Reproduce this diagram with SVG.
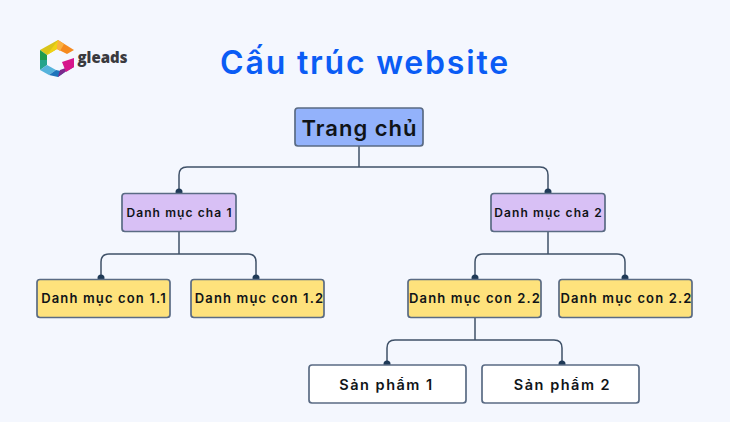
<svg xmlns="http://www.w3.org/2000/svg" width="730" height="422" viewBox="0 0 730 422">
<style>
text{font-family:"Inter","Noto Sans",sans-serif;font-weight:600;fill:#101418;text-anchor:middle}
.box{stroke:#5a6b84;stroke-width:1.7}
.n{font-size:13px;letter-spacing:1.150px}
.m{font-size:12px;letter-spacing:1.100px}
.s{font-size:14.500px;letter-spacing:1.500px}
.c{fill:none;stroke:#3f5168;stroke-width:1.5}
.d{fill:#1f3a57}
</style>
<rect width="730" height="422" fill="#f4f7fe"/>
<g id="logo">
<polygon points="58,40 40,50 47,55 57,49" fill="#d9c41a"/>
<polygon points="40,50 40,60 47,60 47,55" fill="#1f9a4c"/>
<polygon points="40,60 40,70 47,65 47,60" fill="#23a48b"/>
<polygon points="40,70 49,75 56,70 47,65" fill="#55b3dc"/>
<polygon points="49,75 58,77 65,72 56,70" fill="#1d74bb"/>
<polygon points="58,77 65,72 74,67 74,65 60,70" fill="#7b2a8c"/>
<polygon points="62,62 74,58 74,67 66,72" fill="#d6168c"/>
<polygon points="58,40 74,50 67,54 57,49" fill="#f58a1f"/>
<polygon points="47,55 57,49 58,40" fill="#f0d214"/>
<polygon points="58,40 64,44 60,51 57,49" fill="#fbb040"/>
<text x="102.500" y="63" style="font-size:15px;fill:#3a3a3e;font-weight:800;font-family:'Open Sans',sans-serif">gleads</text>
</g>
<text x="365" y="74" style="font-size:32px;fill:#0a5cf5;letter-spacing:1.800px">Cấu trúc website</text>
<g id="connectors">
<path class="c" d="M359 146V167M179 193V175Q179 167 187 167H540Q548 167 548 175V193"/>
<path class="c" d="M179 232V254M101 279V262Q101 254 109 254H248Q256 254 256 262V279"/>
<path class="c" d="M548 232V254M475 279V262Q475 254 483 254H617Q625 254 625 262V279"/>
<path class="c" d="M475 318V340M387 365V348Q387 340 395 340H554Q562 340 562 348V365"/>
<circle class="d" cx="179" cy="192" r="3.500"/><circle class="d" cx="548" cy="192" r="3.500"/>
<circle class="d" cx="101" cy="278" r="3.500"/><circle class="d" cx="256" cy="278" r="3.500"/>
<circle class="d" cx="475" cy="278" r="3.500"/><circle class="d" cx="625" cy="278" r="3.500"/>
<circle class="d" cx="387" cy="364" r="3.500"/><circle class="d" cx="562" cy="364" r="3.500"/>
</g>
<g id="home"><rect class="box" x="295" y="108" width="128" height="38" rx="3" fill="#93b2fb"/><text x="359.500" y="136" style="font-size:22px;letter-spacing:1px">Trang chủ</text></g>
<g id="cha1"><rect class="box" x="122" y="193.500" width="114" height="38" rx="3" fill="#d8c0f5"/><text class="m" x="179.500" y="216.500">Danh mục cha 1</text></g>
<g id="cha2"><rect class="box" x="491" y="193.500" width="114" height="38" rx="3" fill="#d8c0f5"/><text class="m" x="548.500" y="216.500">Danh mục cha 2</text></g>
<g id="con11"><rect class="box" x="37" y="279.500" width="133" height="38" rx="3" fill="#fee27c"/><text class="n" x="104" y="303">Danh mục con 1.1</text></g>
<g id="con12"><rect class="box" x="191" y="279.500" width="133" height="38" rx="3" fill="#fee27c"/><text class="n" x="259.500" y="303">Danh mục con 1.2</text></g>
<g id="con22a"><rect class="box" x="408" y="279.500" width="133" height="38" rx="3" fill="#fee27c"/><text class="n" x="475" y="303">Danh mục con 2.2</text></g>
<g id="con22b"><rect class="box" x="559" y="279.500" width="133" height="38" rx="3" fill="#fee27c"/><text class="n" x="626.500" y="303">Danh mục con 2.2</text></g>
<g id="sp1"><rect class="box" x="309" y="365" width="157" height="38" rx="3" fill="#fff"/><text class="s" x="386.500" y="390">Sản phẩm 1</text></g>
<g id="sp2"><rect class="box" x="482" y="365" width="157" height="38" rx="3" fill="#fff"/><text class="s" x="562.500" y="390">Sản phẩm 2</text></g>
</svg>
